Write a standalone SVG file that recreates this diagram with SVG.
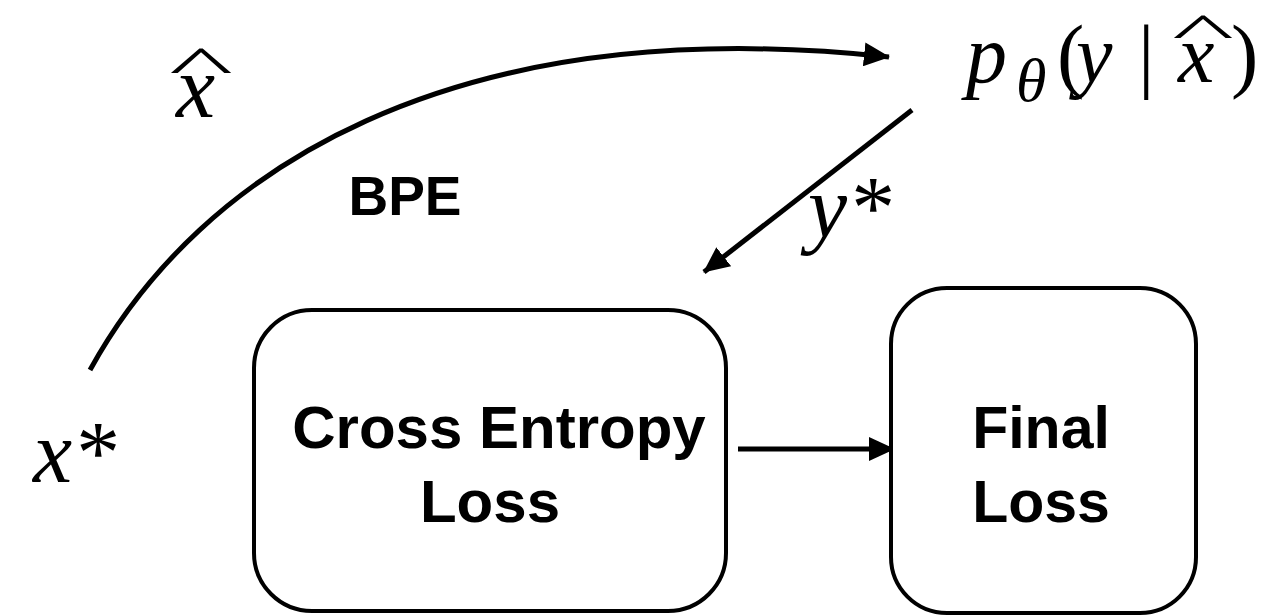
<svg xmlns="http://www.w3.org/2000/svg" width="1266" height="616" viewBox="0 0 1266 616">
<style>
.m{font-family:"Liberation Serif","Times New Roman",serif;font-style:italic;fill:#000}
.u{font-family:"Liberation Serif","Times New Roman",serif;fill:#000}
.b{font-family:"Liberation Sans",Arial,sans-serif;font-weight:bold;fill:#000;text-anchor:middle}
.box{fill:#fff;stroke:#000;stroke-width:4}
.edge{fill:none;stroke:#000;stroke-width:5}
</style>
<defs>
<marker id="ah" viewBox="0 0 26 24" refX="25" refY="12" markerWidth="26" markerHeight="24" markerUnits="userSpaceOnUse" orient="auto">
<path d="M0,0 L26,12 L0,24 z" fill="#000"/>
</marker>
</defs>
<g id="connectors">
<path class="edge" d="M90,370 C200,170 450,10 889,57" marker-end="url(#ah)"/>
<line class="edge" x1="912" y1="110" x2="704" y2="272" marker-end="url(#ah)"/>
<line class="edge" x1="738" y1="449" x2="894" y2="449" stroke-width="4" marker-end="url(#ah)"/>
</g>
<g id="label-xhat">
<text class="m" x="176" y="117" font-size="88">x</text>
<text class="u" font-size="88" text-anchor="middle" transform="translate(201,83) scale(1.55,0.6)">^</text>
</g>
<g id="label-bpe">
<text class="b" x="405" y="215" font-size="55">BPE</text>
</g>
<g id="label-xstar">
<text class="m" x="33" y="482" font-size="88">x*</text>
</g>
<g id="label-ystar">
<text class="m" x="808" y="237" font-size="88">y*</text>
</g>
<g id="node-model">
<text class="m" font-size="82"><tspan x="966" y="82">p</tspan><tspan x="1016" y="101" font-size="62">θ</tspan><tspan x="1057" y="82" font-style="normal">(</tspan><tspan x="1076" y="82">y</tspan><tspan x="1138" y="82" font-style="normal">|</tspan><tspan x="1178" y="82">x</tspan><tspan x="1231" y="82" font-style="normal">)</tspan></text>
<text class="u" font-size="80" text-anchor="middle" transform="translate(1203,47) scale(1.65,0.6)">^</text>
</g>
<g id="node-ce">
<rect class="box" x="254" y="310" width="472" height="301" rx="58" ry="58"/>
<text class="b" x="499" y="448" font-size="60">Cross Entropy</text>
<text class="b" x="490" y="522" font-size="60">Loss</text>
</g>
<g id="node-final">
<rect class="box" x="891" y="288" width="305" height="325" rx="56" ry="56"/>
<text class="b" x="1041" y="448" font-size="59">Final</text>
<text class="b" x="1041" y="522" font-size="59">Loss</text>
</g>
</svg>
